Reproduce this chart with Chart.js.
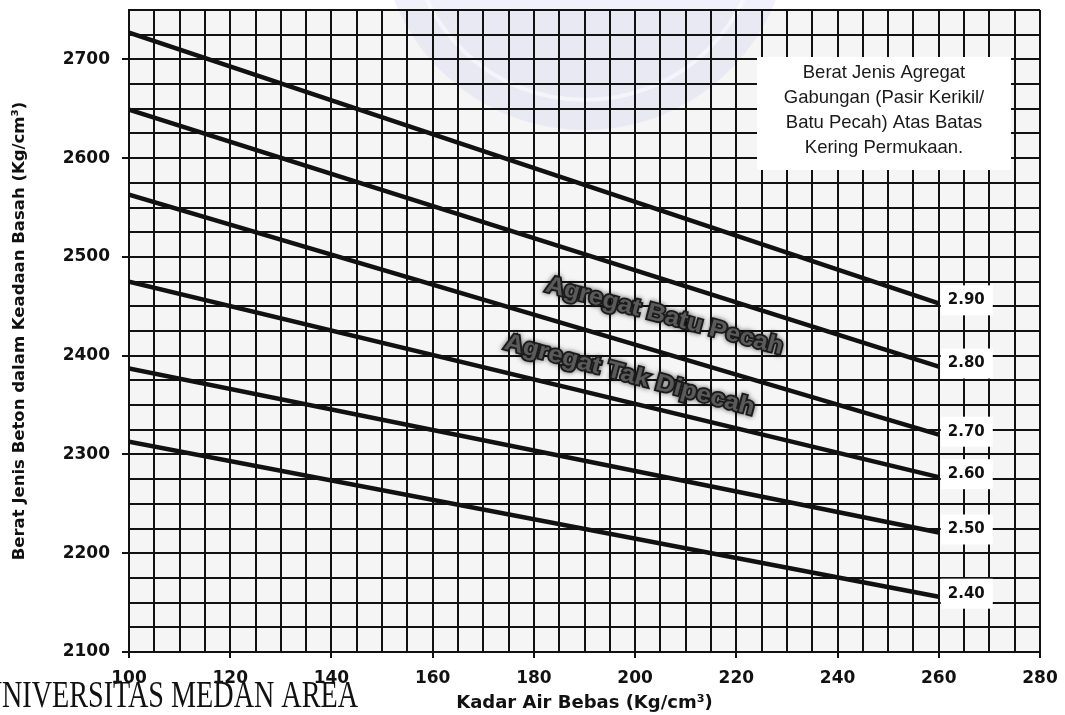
<!DOCTYPE html>
<html>
<head>
<meta charset="utf-8">
<script src="https://cdn.jsdelivr.net/npm/chart.js@4/dist/chart.umd.min.js"></script>
<style>
  html, body { margin: 0; padding: 0; background: #ffffff; }
  #wrap { width: 1065px; height: 715px; position: relative; }
  canvas { display: block; }
</style>
</head>
<body>
<div id="wrap"><canvas id="chart" width="1065" height="715"></canvas></div>
<script>
// ---- Data ----
const kadarAir = [100, 260];                 // Kadar Air Bebas (x)
const sg290 = [2727, 2453];
const sg280 = [2649, 2389];
const sg270 = [2563, 2320];
const sg260 = [2475, 2277];
const sg250 = [2387, 2221];
const sg240 = [2313, 2156];
const seriesLabels = ['2.90', '2.80', '2.70', '2.60', '2.50', '2.40'];
const xTickLabels = [100, 120, 140, 160, 180, 200, 220, 240, 260, 280];
const yTickLabels = [2100, 2200, 2300, 2400, 2500, 2600, 2700];
const xTitle = 'Kadar Air Bebas (Kg/cm\u00B3)';
const yTitle = 'Berat Jenis Beton dalam Keadaan Basah (Kg/cm\u00B3)';
const noteLines = ['Berat Jenis Agregat', 'Gabungan (Pasir Kerikil/', 'Batu Pecah) Atas Batas', 'Kering Permukaan.'];
const curveNotes = ['Agregat Batu Pecah', 'Agregat Tak Dipecah'];
const footerText = 'UNIVERSITAS MEDAN AREA';

const allSeries = [sg290, sg280, sg270, sg260, sg250, sg240];
const toPoints = (ys) => kadarAir.map((x, i) => ({ x: x, y: ys[i] }));

const INK = '#111111';

const decor = {
  id: 'decor',
  beforeDraw(chart) {
    const { ctx, chartArea: a } = chart;
    ctx.save();
    ctx.fillStyle = '#ffffff';
    ctx.fillRect(0, 0, chart.width, chart.height);
    ctx.fillStyle = '#f5f5f5';
    ctx.fillRect(a.left, a.top, a.right - a.left, a.bottom - a.top);
    // faint watermark emblem
    ctx.beginPath();
    ctx.arc(585, -75, 205, 0, Math.PI * 2);
    ctx.fillStyle = 'rgba(200,200,242,0.26)';
    ctx.fill();
    ctx.lineWidth = 4;
    ctx.strokeStyle = 'rgba(255,255,255,0.5)';
    ctx.beginPath();
    ctx.arc(585, -75, 175, 0, Math.PI * 2);
    ctx.stroke();
    ctx.restore();
  },
  beforeDatasetsDraw(chart) {
    const { ctx } = chart;
    ctx.save();
    ctx.fillStyle = '#ffffff';
    // note box (covers grid)
    ctx.fillRect(757, 57, 254, 113);
    // boxes behind series labels
    chart.data.datasets.forEach((ds, i) => {
      const meta = chart.getDatasetMeta(i);
      const p = meta.data[meta.data.length - 1];
      if (!p) return;
      ctx.fillRect(p.x + 2, p.y - 3 - 15, 52, 30);
    });
    ctx.restore();
  },
  afterDatasetsDraw(chart) {
    const { ctx, scales } = chart;
    ctx.save();
    // note text
    ctx.fillStyle = '#1a1a1a';
    ctx.font = '18.5px "Liberation Sans", Arial, sans-serif';
    ctx.textAlign = 'center';
    ctx.textBaseline = 'middle';
    noteLines.forEach((t, i) => ctx.fillText(t, 884, 73 + i * 25));
    // series labels
    ctx.font = 'bold 15px "DejaVu Sans", sans-serif';
    ctx.textAlign = 'left';
    ctx.fillStyle = INK;
    chart.data.datasets.forEach((ds, i) => {
      const meta = chart.getDatasetMeta(i);
      const p = meta.data[meta.data.length - 1];
      if (!p) return;
      ctx.fillText(seriesLabels[i], p.x + 9, p.y - 3);
    });
    // rotated curve notes
    const anchors = [
      { x: scales.x.getPixelForValue(205.8), y: scales.y.getPixelForValue(2440), len: 245 },
      { x: scales.x.getPixelForValue(198.9), y: scales.y.getPixelForValue(2380), len: 258 }
    ];
    curveNotes.forEach((t, i) => {
      const an = anchors[i];
      ctx.save();
      ctx.translate(an.x, an.y);
      ctx.rotate(15 * Math.PI / 180);
      ctx.font = 'bold 24px "Liberation Sans", Arial, sans-serif';
      const w = ctx.measureText(t).width;
      ctx.scale(an.len / w, 1);
      ctx.textAlign = 'center';
      ctx.textBaseline = 'middle';
      ctx.shadowColor = 'rgba(0,0,0,0.6)';
      ctx.shadowBlur = 5;
      ctx.lineWidth = 3.5;
      ctx.strokeStyle = '#1a1a1a';
      ctx.strokeText(t, 0, 0);
      ctx.shadowBlur = 0;
      ctx.fillStyle = '#5a5a5a';
      ctx.fillText(t, 0, 0);
      ctx.restore();
    });
    ctx.restore();
  },
  afterDraw(chart) {
    const { ctx } = chart;
    ctx.save();
    ctx.font = '38px "Liberation Serif", "DejaVu Serif", serif';
    ctx.fillStyle = '#111';
    ctx.textBaseline = 'alphabetic';
    const first = ctx.measureText(footerText.charAt(0)).width;
    const rest = ctx.measureText(footerText.slice(1)).width;
    const s = 356 / rest;
    ctx.translate(2 - first * s, 707);
    ctx.scale(s, 1);
    ctx.fillText(footerText, 0, 0);
    ctx.restore();
  }
};

const datasets = allSeries.map((ys, i) => ({
  label: seriesLabels[i],
  data: toPoints(ys),
  borderColor: INK,
  backgroundColor: INK,
  borderWidth: 4.5,
  pointRadius: 0,
  tension: 0,
  fill: false
}));

new Chart(document.getElementById('chart'), {
  type: 'line',
  data: { datasets },
  plugins: [decor],
  options: {
    responsive: false,
    animation: false,
    devicePixelRatio: 1,
    layout: { padding: { left: 0, right: 25, top: 10, bottom: 0 } },
    plugins: { legend: { display: false }, tooltip: { enabled: false } },
    scales: {
      x: {
        type: 'linear',
        min: 100,
        max: 280,
        border: { display: true, color: INK, width: 2 },
        grid: {
          color: INK,
          lineWidth: 2,
          tickLength: 6,
          tickWidth: 2,
          tickColor: (c) => (c.tick && xTickLabels.includes(c.tick.value)) ? INK : 'rgba(0,0,0,0)'
        },
        ticks: {
          stepSize: 5,
          autoSkip: false,
          maxRotation: 0,
          padding: 10,
          color: INK,
          font: { family: '"DejaVu Sans", sans-serif', size: 17, weight: 'bold' },
          callback: (v) => xTickLabels.includes(v) ? String(v) : ''
        },
        title: {
          display: true,
          text: xTitle,
          color: INK,
          font: { family: '"DejaVu Sans", sans-serif', size: 18, weight: 'bold' },
          padding: { top: 0, bottom: 1 }
        },
        afterFit: (s) => { s.height = 63; s.paddingLeft = 0; s.paddingRight = 0; }
      },
      y: {
        type: 'linear',
        min: 2100,
        max: 2750,
        border: { display: true, color: INK, width: 2 },
        grid: {
          color: INK,
          lineWidth: 2,
          tickLength: 7,
          tickWidth: 2,
          tickColor: (c) => (c.tick && yTickLabels.includes(c.tick.value)) ? INK : 'rgba(0,0,0,0)'
        },
        ticks: {
          stepSize: 25,
          autoSkip: false,
          padding: 12,
          color: INK,
          font: { family: '"DejaVu Sans", sans-serif', size: 17, weight: 'bold' },
          callback: (v) => yTickLabels.includes(v) ? String(v) : ''
        },
        title: {
          display: true,
          text: yTitle,
          color: INK,
          font: { family: '"DejaVu Sans", sans-serif', size: 16.5, weight: 'bold' },
          padding: { top: 10, bottom: 0 }
        },
        afterFit: (s) => { s.width = 129; s.paddingTop = 0; s.paddingBottom = 0; }
      }
    }
  }
});
</script>
</body>
</html>
